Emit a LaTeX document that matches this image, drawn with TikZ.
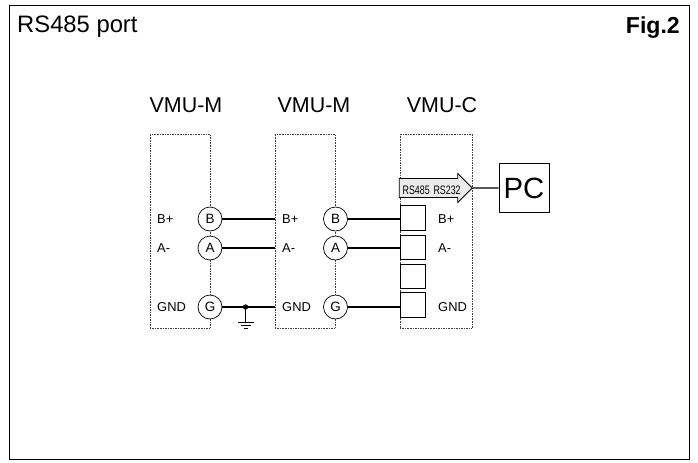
\documentclass[tikz,border=0pt]{standalone}
\usepackage{fontspec}
\setmainfont{Liberation Sans}
\usetikzlibrary{shapes}

\newcommand{\fsize}[1]{\fontsize{#1}{#1}\selectfont}

\tikzset{
  vmubox/.style={draw, densely dotted, gray!50!black, minimum width=1.8cm, minimum height=5.82cm, inner sep=0pt},
  pin/.style={draw, circle, semithick, inner sep=0pt, minimum size=0.72cm, fill=white, font=\fsize{11.5}},
  term/.style={draw, thick, inner sep=0pt, minimum width=0.75cm, minimum height=0.73cm, fill=white},
  sig/.style={inner sep=0pt, font=\fsize{11}, anchor=base west},
  head/.style={inner sep=0pt, font=\fsize{18.3}},
  wire/.style={draw, line width=0.9pt, black},
}

\begin{document}
\begin{tikzpicture}[x=0.03cm, y=-0.03cm]
\useasboundingbox (0,0) rectangle (698,462);
\node[draw, thick, inner sep=0pt, minimum width=20.4cm, minimum height=13.62cm] (frame) at (349,232) {};
\node[inner sep=0pt, font=\fsize{20.3}, anchor=base west] (title) at (17,32) {RS485 port};
\node[inner sep=0pt, font=\fsize{19.7}\bfseries, anchor=base east] (fig) at (680,33) {Fig.2};

\node[head] (name1) at (186,105) {VMU-M};
\node[head] (name2) at (314,105) {VMU-M};
\node[head] (name3) at (442,105) {VMU-C};

\node[vmubox] (vmu1) at (180,231) {};
\node[vmubox] (vmu2) at (305,231) {};
\node[vmubox, minimum width=2.16cm] (vmu3) at (436,231) {};

\node[pin] (B1) at (210,219) {B};
\node[pin] (A1) at (210,248) {A};
\node[pin] (G1) at (210,307) {G};
\node[pin] (B2) at (335.5,219) {B};
\node[pin] (A2) at (335.5,248) {A};
\node[pin] (G2) at (335.5,307) {G};

\node[term] (tB) at (412.5,218) {};
\node[term] (tA) at (412.5,247.5) {};
\node[term] (tN) at (412.5,276.5) {};
\node[term] (tG) at (412.5,305) {};

\node[sig] (b1) at (157,223) {B+};
\node[sig] (a1) at (157,252) {A-};
\node[sig] (g1) at (157,311) {GND};
\node[sig] (b2) at (282,223) {B+};
\node[sig] (a2) at (282,252) {A-};
\node[sig] (g2) at (282,311) {GND};
\node[sig] (b3) at (438,223) {B+};
\node[sig] (a3) at (438,252) {A-};
\node[sig] (g3) at (438,311) {GND};

\node[draw, single arrow, thick, fill=gray!15, inner sep=0pt, minimum height=2.19cm, minimum width=0.87cm, single arrow head extend=0.12cm, single arrow head indent=0pt, text width=1.7cm] (conv) at (431,188) {\hspace{0.14cm}\scalebox{0.72}[1]{\fsize{10.5}RS485\hspace{0.16cm}RS232}};
\node[draw, thick, inner sep=0pt, minimum width=1.5cm, minimum height=1.48cm, font=\fsize{25}] (pc) at (524,188) {PC};

\draw[wire] (B1) -- (B1 -| vmu2.west);
\draw[wire] (A1) -- (A1 -| vmu2.west);
\draw[wire] (G1) -- (G1 -| vmu2.west);
\draw[wire] (B2) -- (B2 -| tB.west);
\draw[wire] (A2) -- (A2 -| tA.west);
\draw[wire] (G2) -- (G2 -| tG.west);
\draw[wire] (conv.east) -- (pc.west);

% earth
\coordinate (tap) at (245.5,307);
\coordinate (earth) at (245.5,322);
\fill (tap) circle (0.08cm);
\draw[semithick] (tap) -- (earth);
\draw[semithick] ([xshift=-0.24cm]earth) -- ([xshift=0.24cm]earth);
\draw[thin] ([xshift=-0.15cm, yshift=-0.1cm]earth) -- ([xshift=0.15cm, yshift=-0.1cm]earth);
\draw[thin] ([xshift=-0.06cm, yshift=-0.2cm]earth) -- ([xshift=0.06cm, yshift=-0.2cm]earth);
\end{tikzpicture}
\end{document}
